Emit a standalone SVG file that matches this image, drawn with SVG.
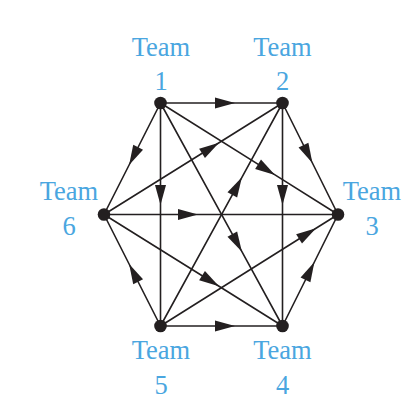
<svg xmlns="http://www.w3.org/2000/svg" width="418" height="420" viewBox="0 0 418 420">
<style>
.e{fill:none;stroke:#231f20;stroke-width:1.6;marker-mid:url(#ah)}
.n{fill:#231f20}
.t{font-family:"Liberation Serif","Times New Roman",serif;font-size:26.5px;fill:#4aa6e0;text-anchor:middle}
</style>
<defs>
<marker id="ah" markerUnits="userSpaceOnUse" markerWidth="24" markerHeight="14" viewBox="-21 -7 23 14" refX="0" refY="0" orient="auto">
<path d="M0,0 L-20,-5.5 L-20,5.5 Z" fill="#231f20"/>
</marker>
</defs>
<rect width="418" height="420" fill="#fff"/>
<g id="connectors">
<path class="e" d="M160.5,103 L235,103 L282.5,103"/>
<path class="e" d="M104,214.5 L198,214.5 L338,214.5"/>
<path class="e" d="M160.5,103 L160.5,205 L160.5,326"/>
<path class="e" d="M282.5,103 L282.5,205 L282.5,326"/>
<path class="e" d="M160.5,103 L129.1,165 L104,214.5"/>
<path class="e" d="M104,214.5 L219,142.7 L282.5,103"/>
<path class="e" d="M282.5,103 L312.4,163 L338,214.5"/>
<path class="e" d="M160.5,103 L275,174.9 L338,214.5"/>
<path class="e" d="M160.5,326 L241.9,177.3 L282.5,103"/>
<path class="e" d="M160.5,103 L241.9,251.7 L282.5,326"/>
<path class="e" d="M104,214.5 L219,286.3 L282.5,326"/>
<path class="e" d="M160.5,326 L129.1,264 L104,214.5"/>
<path class="e" d="M160.5,326 L235,326 L282.5,326"/>
<path class="e" d="M282.5,326 L314.4,262 L338,214.5"/>
<path class="e" d="M160.5,326 L316,228.3 L338,214.5"/>
</g>
<g id="team1"><circle class="n" cx="160.5" cy="103" r="6.3"/><text class="t" x="161" y="56">Team</text><text class="t" x="161" y="90">1</text></g>
<g id="team2"><circle class="n" cx="282.5" cy="103" r="6.3"/><text class="t" x="282.5" y="56">Team</text><text class="t" x="282.5" y="90">2</text></g>
<g id="team3"><circle class="n" cx="338" cy="214.5" r="6.3"/><text class="t" x="372" y="200">Team</text><text class="t" x="372" y="235">3</text></g>
<g id="team4"><circle class="n" cx="282.5" cy="326" r="6.3"/><text class="t" x="282.5" y="359">Team</text><text class="t" x="282.5" y="394">4</text></g>
<g id="team5"><circle class="n" cx="160.5" cy="326" r="6.3"/><text class="t" x="161" y="359">Team</text><text class="t" x="161" y="394">5</text></g>
<g id="team6"><circle class="n" cx="104" cy="214.5" r="6.3"/><text class="t" x="69" y="200">Team</text><text class="t" x="69" y="235">6</text></g>
</svg>
